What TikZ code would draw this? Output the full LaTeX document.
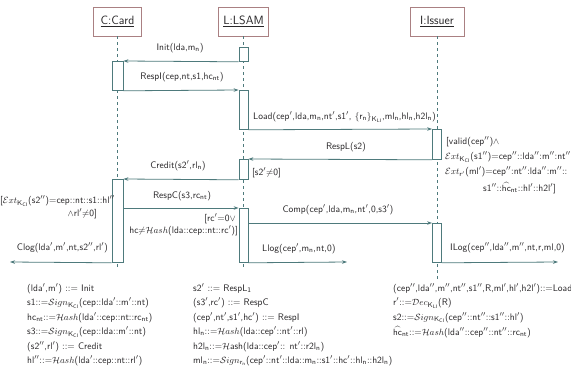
\documentclass[tikz,border=0pt]{standalone}
\usetikzlibrary{arrows.meta}
\definecolor{lnc}{RGB}{78,122,124}
\definecolor{txc}{RGB}{40,38,40}
\definecolor{obc}{RGB}{170,128,130}
\newcommand{\sbs}[1]{\ensuremath{_{\mathsf{#1}}}}
\newcommand{\Ext}{\ensuremath{\mathcal{E}xt}}
\newcommand{\Sgn}{\ensuremath{\mathcal{S}ign}}
\newcommand{\Hsh}{\ensuremath{\mathcal{H}ash}}
\newcommand{\Dcr}{\ensuremath{\mathcal{D}ec}}
\newcommand{\KCI}{\ensuremath{_{\mathsf{K_{CI}}}}}
\newcommand{\KLI}{\ensuremath{_{\mathsf{K_{LI}}}}}
\newcommand{\nq}{\ensuremath{{\neq}}}
\begin{document}
\begin{tikzpicture}[x=1pt,y=-1pt,
  lbl/.style={font=\sffamily\fontsize{9.5}{11}\selectfont, text=txc, inner sep=0pt},
  bline/.style={lbl, anchor=base west},
  obj/.style={draw=obc, line width=0.8pt, fill=white, inner sep=0pt, minimum height=29pt,
              font=\sffamily\fontsize{12}{14}\selectfont, text=txc},
  act/.style={draw=lnc, fill=white, line width=0.8pt, inner sep=0pt, anchor=north},
  life/.style={draw=lnc, line width=0.7pt, dash pattern=on 3pt off 3pt},
  msg/.style={draw=lnc, line width=0.8pt, -{Stealth[length=5pt,width=3.5pt]}}]
\useasboundingbox (0,0) rectangle (571,375);
\fill[white] (0,0) rectangle (571,375);
% objects
\node[obj, minimum width=48pt] (card) at (117.5,21.5) {\underline{C:Card}};
\node[obj, minimum width=50pt] (lsam) at (243.5,21.5) {\underline{L:LSAM}};
\node[obj, minimum width=54pt] (iss) at (437,21.5) {\underline{I:Issuer}};
% lifelines
\coordinate (cend) at (117.5,270);
\coordinate (lend) at (243.5,270);
\coordinate (iend) at (437,280);
\draw[life] (card.south) -- (cend);
\draw[life] (lsam.south) -- (lend);
\draw[life] (iss.south) -- (iend);
% activations
\node[act, minimum width=11pt, minimum height=29pt] (c1) at (117.5,61) {};
\node[act, minimum width=11pt, minimum height=83pt] (c2) at (117.5,179) {};
\node[act, minimum width=9pt, minimum height=14pt] (l1) at (243.5,47) {};
\node[act, minimum width=9pt, minimum height=39pt] (l2) at (243.5,90) {};
\node[act, minimum width=9pt, minimum height=20pt] (l3) at (243.5,159) {};
\node[act, minimum width=9pt, minimum height=54pt] (l4) at (243.5,208) {};
\node[act, minimum width=9pt, minimum height=30pt] (i1) at (437,129) {};
\node[act, minimum width=9pt, minimum height=39pt] (i2) at (437,223) {};
% free ends
\coordinate (clogend) at (10,262);
\coordinate (llogend) at (347,262);
\coordinate (ilogend) at (558,262);
% messages
\draw[msg] (l1.south west) -- (c1.north east);
\draw[msg] (c1.south east) -- (l2.north west);
\draw[msg] (l2.south east) -- (i1.north west);
\draw[msg] (i1.south west) -- (l3.north east);
\draw[msg] (l3.south west) -- (c2.north east);
\draw[msg] (c2.east |- l4.north) -- (l4.north west);
\draw[msg] (l4.east |- i2.north) -- (i2.north west);
\draw[msg] (c2.south west) -- (clogend);
\draw[msg] (l4.south east) -- (llogend);
\draw[msg] (i2.south east) -- (ilogend);
% message labels
\node[lbl] (tinit) at (180,48) {Init(lda,m\sbs{n})};
\node[lbl] (trespi) at (182,77) {RespI(cep,nt,s1,hc\sbs{nt})};
\node[lbl,anchor=west] (tload) at (253,117) {Load(cep$'$,lda,m\sbs{n},nt$'$,s1$'$, $\{$r\sbs{n}$\}$\KLI,ml\sbs{n},hl\sbs{n},h2l\sbs{n})};
\node[lbl] (trespl) at (346,147) {RespL(s2)};
\node[lbl,anchor=west] (v1) at (446,142) {[valid(cep$''$)$\wedge$};
\node[lbl,anchor=west] (v2) at (445,157) {\Ext\KCI(s1$''$)=cep$''$::lda$''$:m$''$:nt$''$};
\node[lbl,anchor=west] (v3) at (445,172) {\Ext$_{\mathsf{r}'}$(ml$'$)=cep$''$:nt$''$:lda$''$:m$''$::};
\node[lbl,anchor=west] (v4) at (483,188) {s1$''$::$\widehat{\mathsf{hc}}_{\mathsf{nt}}$::hl$'$::h2l$'$]};
\node[lbl] (tcredit) at (178,166) {Credit(s2$'$,rl\sbs{n})};
\node[lbl,anchor=west] (tneq) at (252,173) {[s2$'$\nq0]};
\node[lbl,anchor=west] (e1) at (0,201) {[\Ext\KCI(s2$''$)=cep::nt::s1::hl$''$};
\node[lbl,anchor=east] (e2) at (97,214) {$\wedge$rl$'$\nq0]};
\node[lbl] (trespc) at (182,196) {RespC(s3,rc\sbs{nt})};
\node[lbl,anchor=east] (g1) at (236,219) {[rc$'$=0$\vee$};
\node[lbl,anchor=east] (g2) at (238,231) {hc\nq\Hsh(lda::cep::nt::rc$'$)]};
\node[lbl] (tcomp) at (338,210) {Comp(cep$'$,lda,m\sbs{n},nt$'$,0,s3$'$)};
\node[lbl,anchor=east] (tclog) at (108,248) {Clog(lda$'$,m$'$,nt,s2$''$,rl$'$)};
\node[lbl,anchor=west] (tllog) at (262,249) {Llog(cep$'$,m\sbs{n},nt,0)};
\node[lbl,anchor=west] (tilog) at (450,248) {ILog(cep$''$,lda$''$,m$''$,nt,r,ml,0)};
% bottom left block
\node[bline] (a1) at (27,291) {(lda$'$,m$'$) ::= Init};
\node[bline] (a2) at (27,305.5) {s1::=\Sgn\KCI(cep::lda$'$::m$'$::nt)};
\node[bline] (a3) at (27,320) {hc\sbs{nt}::=\Hsh(lda$'$::cep::nt::rc\sbs{nt})};
\node[bline] (a4) at (27,334.5) {s3::=\Sgn\KCI(cep::lda::m$'$::nt)};
\node[bline] (a5) at (27,349) {(s2$''$,rl$'$) ::= Credit};
\node[bline] (a6) at (27,363.5) {hl$''$::=\Hsh(lda$'$::cep::nt::rl$'$)};
% bottom middle block
\node[bline] (b1) at (193,291) {s2$'$ ::= RespL\sbs{1}};
\node[bline] (b2) at (193,305.5) {(s3$'$,rc$'$) ::= RespC};
\node[bline] (b3) at (193,320) {(cep$'$,nt$'$,s1$'$,hc$'$) ::= RespI};
\node[bline] (b4) at (193,334.5) {hl\sbs{n}::=\Hsh(lda::cep$'$::nt$'$::rl)};
\node[bline] (b5) at (193,349) {h2l\sbs{n}::=$\mathcal{H}$ash(lda::cep$'$:: nt$'$::r2l\sbs{n})};
\node[bline] (b6) at (193,363.5) {ml\sbs{n}::=\Sgn$_{\mathsf{r_n}}$(cep$'$::nt$'$::lda::m\sbs{n}::s1$'$::hc$'$::hl\sbs{n}::h2l\sbs{n})};
% bottom right block
\node[bline] (r1) at (393,291) {(cep$''$,lda$''$,m$''$,nt$''$,s1$''$,R,ml$'$,hl$'$,h2l$'$)::=Load};
\node[bline] (r2) at (393,305.5) {r$'$::=\Dcr\KLI(R)};
\node[bline] (r3) at (393,320) {s2::=\Sgn\KCI(cep$''$::nt$''$::s1$''$::hl$'$)};
\node[bline] (r4) at (393,335) {$\widehat{\mathsf{hc}}_{\mathsf{nt}}$::=\Hsh(lda$''$::cep$''$::nt$''$::rc\sbs{nt})};
\end{tikzpicture}
\end{document}
